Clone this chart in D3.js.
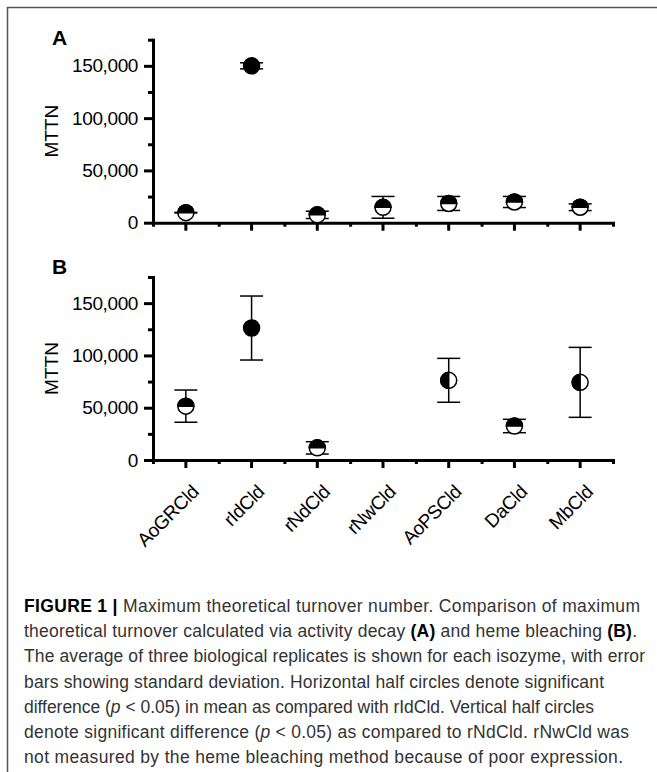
<!DOCTYPE html>
<html>
<head>
<meta charset="utf-8">
<script src="https://cdn.jsdelivr.net/npm/d3@7"></script>
<style>
  body { margin: 0; background: #fff; }
  svg { display: block; }
  .axis text { font-family: "Liberation Sans", Arial, sans-serif; fill: #000; }
</style>
</head>
<body>
<div id="chart-area"></div>
<script>
// categories and values
const categories = ["AoGRCld", "rIdCld", "rNdCld", "rNwCld", "AoPSCld", "DaCld", "MbCld"]
// panel A: activity decay
const meanA = [9600, 150000, 7500, 14700, 18400, 19800, 14800]
const sdA = [300, 2900, 3500, 10400, 6700, 5300, 3200]
const markA = ["h", "f", "h", "h", "h", "h", "h"]   // f = filled, h = horizontal half, v = vertical half
// panel B: heme bleaching (rNwCld not measured)
const meanB = [51500, 126200, 11600, null, 76200, 32500, 74250]
const sdB = [15400, 30600, 5900, null, 21000, 6400, 33450]
const markB = ["h", "f", "h", null, "v", "h", "v"]
const majorTicks = [0, 50000, 100000, 150000]
const minorTicks = [25000, 75000, 125000, 175000]
const captionLines = [
  [["FIGURE 1 | ", "b"], ["Maximum theoretical turnover number. Comparison of maximum", ""]],
  [["theoretical turnover calculated via activity decay ", ""], ["(A)", "b"], [" and heme bleaching ", ""], ["(B)", "b"], [".", ""]],
  [["The average of three biological replicates is shown for each isozyme, with error", ""]],
  [["bars showing standard deviation. Horizontal half circles denote significant", ""]],
  [["difference (", ""], ["p", "i"], [" < 0.05) in mean as compared with rIdCld. Vertical half circles", ""]],
  [["denote significant difference (", ""], ["p", "i"], [" < 0.05) as compared to rNdCld. rNwCld was", ""]],
  [["not measured by the heme bleaching method because of poor expression.", ""]]
]
// right end of every caption line in the figure
const captionEnds = [640, 637, 645, 604, 594, 629, 623]

const WIDTH = 657, HEIGHT = 772
const X0 = 153, X1 = 613
const FONT = '"Liberation Sans", Arial, sans-serif'

const svg = d3.select("#chart-area").append("svg")
  .attr("width", WIDTH)
  .attr("height", HEIGHT)

// frame (only left and top edges are inside the crop)
svg.append("path")
  .attr("d", `M7.5,${HEIGHT} V7.5 H${WIDTH}`)
  .attr("fill", "none")
  .attr("stroke", "#555")
  .attr("stroke-width", 1.5)

const x = d3.scaleBand()
  .domain(categories)
  .range([X0, X1])
const xMinor = d3.scaleLinear().domain([0, categories.length]).range([X0, X1])
const cx = d => x(d) + x.bandwidth() / 2

const panels = [
  { label: "A", mean: meanA, sd: sdA, mark: markA, base: 222.7, labelY: 45, names: false },
  { label: "B", mean: meanB, sd: sdB, mark: markB, base: 460, labelY: 274, names: true }
]

panels.forEach(p => {
  const g = svg.append("g")
  const y = d3.scaleLinear().domain([0, 175000]).range([p.base, p.base - 183])

  // panel letter
  g.append("text")
    .attr("x", 52)
    .attr("y", p.labelY)
    .attr("font-family", FONT)
    .attr("font-weight", "bold")
    .attr("font-size", "21px")
    .text(p.label)

  // y label
  g.append("text")
    .attr("transform", `translate(58, ${(y(0) + y(175000)) / 2}) rotate(-90)`)
    .attr("text-anchor", "middle")
    .attr("font-family", FONT)
    .attr("font-size", "19px")
    .text("MTTN")

  // y axis
  const yAxis = g.append("g")
    .attr("class", "axis")
    .attr("transform", `translate(${X0},0)`)
    .call(d3.axisLeft(y).tickValues(majorTicks).tickSize(9).tickSizeOuter(0)
      .tickPadding(6).tickFormat(d3.format(",")))
  yAxis.selectAll("text").attr("font-size", "19px").attr("letter-spacing", "-0.4px")
  g.append("g")
    .attr("transform", `translate(${X0},0)`)
    .call(d3.axisLeft(y).tickValues(minorTicks).tickSize(5).tickFormat(""))
    .call(a => a.select(".domain").remove())

  // x axis
  const xAxis = g.append("g")
    .attr("class", "axis")
    .attr("transform", `translate(0,${y(0)})`)
    .call(d3.axisBottom(x).tickSize(8).tickSizeOuter(0).tickFormat(p.names ? d => d : ""))
  g.append("g")
    .attr("transform", `translate(0,${y(0)})`)
    .call(d3.axisBottom(xMinor).tickValues(d3.range(categories.length + 1)).tickSize(4).tickFormat(""))
    .call(a => a.select(".domain").remove())
  if (p.names) {
    xAxis.selectAll("text")
      .attr("x", null).attr("y", null).attr("dy", null)
      .attr("text-anchor", "end")
      .attr("font-size", "19px")
      .attr("letter-spacing", "-0.4px")
      .attr("transform", "translate(14,33) rotate(-45)")
  }

  g.selectAll(".domain").attr("stroke-width", 3).attr("stroke-linecap", "square")
  g.selectAll(".tick line").attr("stroke-width", 3)

  // data
  const rows = categories.map((c, i) => ({ c, m: p.mean[i], s: p.sd[i], k: p.mark[i] }))
    .filter(d => d.m != null)

  const err = g.append("g").attr("stroke", "#000").attr("stroke-width", 1.5)
  err.selectAll(".stem").data(rows).join("line")
    .attr("x1", d => cx(d.c)).attr("x2", d => cx(d.c))
    .attr("y1", d => y(d.m - d.s)).attr("y2", d => y(d.m + d.s))
  err.selectAll(".capHi").data(rows).join("line")
    .attr("x1", d => cx(d.c) - 11.5).attr("x2", d => cx(d.c) + 11.5)
    .attr("y1", d => y(d.m + d.s)).attr("y2", d => y(d.m + d.s))
  err.selectAll(".capLo").data(rows).join("line")
    .attr("x1", d => cx(d.c) - 11.5).attr("x2", d => cx(d.c) + 11.5)
    .attr("y1", d => y(d.m - d.s)).attr("y2", d => y(d.m - d.s))

  const r = 8
  const mk = g.append("g")
  mk.selectAll("circle").data(rows).join("circle")
    .attr("cx", d => cx(d.c)).attr("cy", d => y(d.m)).attr("r", r)
    .attr("fill", d => d.k === "f" ? "#000" : "#fff")
    .attr("stroke", "#000").attr("stroke-width", 1.5)
  mk.selectAll("path").data(rows.filter(d => d.k !== "f")).join("path")
    .attr("d", d => {
      const px = cx(d.c), py = y(d.m)
      return d.k === "h"
        ? `M${px - r},${py} A${r},${r} 0 0 1 ${px + r},${py} Z`
        : `M${px},${py - r} A${r},${r} 0 0 0 ${px},${py + r} Z`
    })
    .attr("fill", "#000").attr("stroke", "#000").attr("stroke-width", 1.5)
})

// caption
const cap = svg.append("g")
  .attr("font-family", FONT)
  .attr("fill", "#333")
const capText = cap.selectAll("text").data(captionLines).join("text")
  .attr("x", 24)
  .attr("y", (d, i) => 612 + i * 25.17)
  .attr("font-size", "17.5px")
  .attr("textLength", (d, i) => captionEnds[i] - 24)
  .attr("lengthAdjust", "spacing")
capText.selectAll("tspan").data(d => d).join("tspan")
  .attr("font-weight", d => d[1] === "b" ? "bold" : null)
  .attr("font-style", d => d[1] === "i" ? "italic" : null)
  .attr("fill", d => d[1] === "b" ? "#000" : null)
  .text(d => d[0])
</script>
</body>
</html>
